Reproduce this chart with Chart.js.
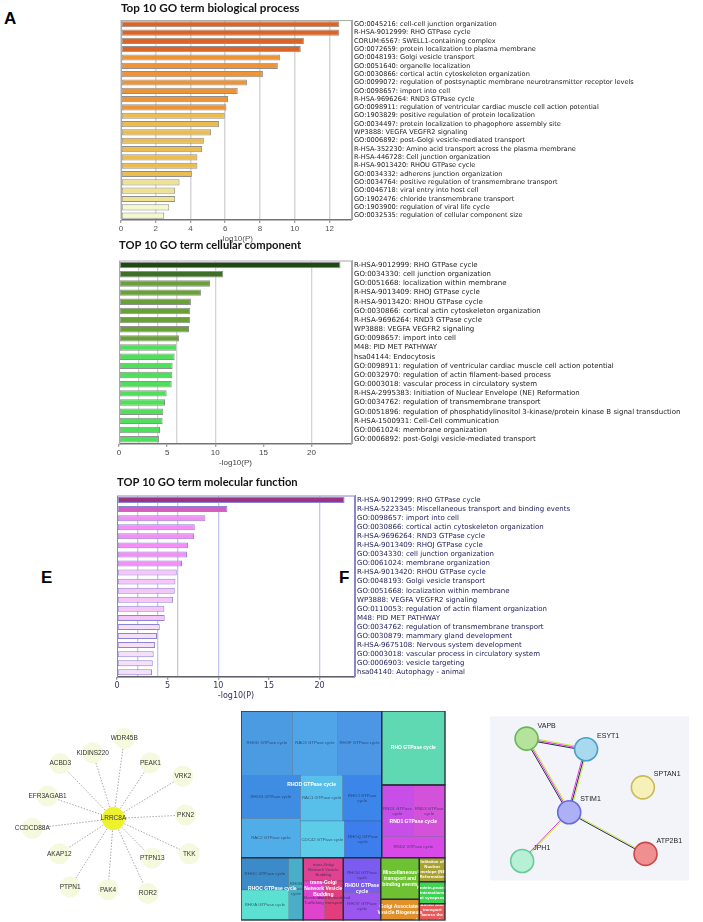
<!DOCTYPE html>
<html>
<head>
<meta charset="utf-8">
<script src="https://cdn.jsdelivr.net/npm/chart.js@4.4.1/dist/chart.umd.min.js"></script>
<style>
    html, body { margin: 0; padding: 0; background: #fff; }
    body { width: 703px; height: 922px; position: relative; overflow: hidden; }
    .panel { position: absolute; }
    .letra { position: absolute; font: bold 17px "Liberation Sans", Arial, sans-serif; line-height: 17px; color: #000; }
</style>
</head>
<body>
<div class="letra" style="left:4px;top:10px">A</div>
<div class="letra" style="left:41px;top:569px">E</div>
<div class="letra" style="left:339px;top:569px">F</div>

<div class="panel" style="left:0;top:0;width:703px;height:245px"><canvas id="grafica_bp"></canvas></div>
<div class="panel" style="left:0;top:237px;width:703px;height:232px"><canvas id="grafica_cc"></canvas></div>
<div class="panel" style="left:0;top:474px;width:703px;height:228px"><canvas id="grafica_mf"></canvas></div>
<div class="panel" style="left:0;top:690px;width:235px;height:232px"><canvas id="grafica_red"></canvas></div>
<div class="panel" style="left:241px;top:711px;width:205px;height:211px"><canvas id="grafica_treemap"></canvas></div>
<div class="panel" style="left:470px;top:690px;width:233px;height:232px"><canvas id="grafica_string"></canvas></div>

<script>
// Datos: términos enriquecidos y -log10(P)
var bpEtiquetas = [
    'GO:0045216: cell-cell junction organization',
    'R-HSA-9012999: RHO GTPase cycle',
    'CORUM:6567: SWELL1-containing complex',
    'GO:0072659: protein localization to plasma membrane',
    'GO:0048193: Golgi vesicle transport',
    'GO:0051640: organelle localization',
    'GO:0030866: cortical actin cytoskeleton organization',
    'GO:0099072: regulation of postsynaptic membrane neurotransmitter receptor levels',
    'GO:0098657: import into cell',
    'R-HSA-9696264: RND3 GTPase cycle',
    'GO:0098911: regulation of ventricular cardiac muscle cell action potential',
    'GO:1903829: positive regulation of protein localization',
    'GO:0034497: protein localization to phagophore assembly site',
    'WP3888: VEGFA VEGFR2 signaling',
    'GO:0006892: post-Golgi vesicle-mediated transport',
    'R-HSA-352230: Amino acid transport across the plasma membrane',
    'R-HSA-446728: Cell junction organization',
    'R-HSA-9013420: RHOU GTPase cycle',
    'GO:0034332: adherens junction organization',
    'GO:0034764: positive regulation of transmembrane transport',
    'GO:0046718: viral entry into host cell',
    'GO:1902476: chloride transmembrane transport',
    'GO:1903900: regulation of viral life cycle',
    'GO:0032535: regulation of cellular component size'
];
var bpValores = [12.57, 12.57, 10.53, 10.35, 9.15, 9.03, 8.17, 7.25, 6.72, 6.16, 6.07, 5.97,
    5.65, 5.19, 4.77, 4.67, 4.4, 4.4, 4.08, 3.37, 3.12, 3.12, 2.78, 2.49];

var ccEtiquetas = [
    'R-HSA-9012999: RHO GTPase cycle',
    'GO:0034330: cell junction organization',
    'GO:0051668: localization within membrane',
    'R-HSA-9013409: RHOJ GTPase cycle',
    'R-HSA-9013420: RHOU GTPase cycle',
    'GO:0030866: cortical actin cytoskeleton organization',
    'R-HSA-9696264: RND3 GTPase cycle',
    'WP3888: VEGFA VEGFR2 signaling',
    'GO:0098657: import into cell',
    'M48: PID MET PATHWAY',
    'hsa04144: Endocytosis',
    'GO:0098911: regulation of ventricular cardiac muscle cell action potential',
    'GO:0032970: regulation of actin filament-based process',
    'GO:0003018: vascular process in circulatory system',
    'R-HSA-2995383: Initiation of Nuclear Envelope (NE) Reformation',
    'GO:0034762: regulation of transmembrane transport',
    'GO:0051896: regulation of phosphatidylinositol 3-kinase/protein kinase B signal transduction',
    'R-HSA-1500931: Cell-Cell communication',
    'GO:0061024: membrane organization',
    'GO:0006892: post-Golgi vesicle-mediated transport'
];
var ccValores = [23.0, 10.83, 9.45, 8.51, 7.47, 7.4, 7.37, 7.27, 6.23, 5.95, 5.78, 5.57,
    5.54, 5.47, 4.95, 4.78, 4.6, 4.53, 4.26, 4.15];

var mfEtiquetas = [
    'R-HSA-9012999: RHO GTPase cycle',
    'R-HSA-5223345: Miscellaneous transport and binding events',
    'GO:0098657: import into cell',
    'GO:0030866: cortical actin cytoskeleton organization',
    'R-HSA-9696264: RND3 GTPase cycle',
    'R-HSA-9013409: RHOJ GTPase cycle',
    'GO:0034330: cell junction organization',
    'GO:0061024: membrane organization',
    'R-HSA-9013420: RHOU GTPase cycle',
    'GO:0048193: Golgi vesicle transport',
    'GO:0051668: localization within membrane',
    'WP3888: VEGFA VEGFR2 signaling',
    'GO:0110053: regulation of actin filament organization',
    'M48: PID MET PATHWAY',
    'GO:0034762: regulation of transmembrane transport',
    'GO:0030879: mammary gland development',
    'R-HSA-9675108: Nervous system development',
    'GO:0003018: vascular process in circulatory system',
    'GO:0006903: vesicle targeting',
    'hsa04140: Autophagy - animal'
];
var mfValores = [22.47, 10.9, 8.73, 7.68, 7.61, 7.02, 6.92, 6.42, 5.9, 5.77, 5.7, 5.54,
    4.68, 4.71, 4.22, 3.95, 3.76, 3.62, 3.53, 3.46];

// Líneas guía verticales (umbrales) de los paneles B y C
var ccLineas = [2, 4, 6, 10, 20];
var mfLineas = [2, 4, 6, 10, 20];

// Red de interacción de LRRC8A (panel E)
var redNodos = ['LRRC8A', 'WDR45B', 'KIDINS220', 'ACBD3', 'PEAK1', 'VRK2', 'EFR3AGAB1', 'PKN2',
    'CCDCD88A', 'TKK', 'AKAP12', 'PTPN13', 'PTPN1', 'PAK4', 'ROR2'];
var redX = [113, 125, 90, 54, 154, 190, 40, 193, 23, 197, 53, 156, 65, 107, 151];
var redY = [130, 41, 57, 69, 68, 83, 105, 126, 141, 169, 169, 174, 206, 209, 213];

// Treemap de términos (panel F): etiqueta y rectángulo [x0, y0, x1, y1]
var tmEtiquetas = ['RHOD GTPase cycle', 'RAC3 GTPase cycle', 'RHOF GTPase cycle', 'RHOG GTPase cycle',
    'RAC1 GTPase cycle', 'RHOJ GTPase\ncycle', 'RAC2 GTPase cycle', 'CDC42 GTPase cycle', 'RHOQ GTPase\ncycle',
    'RHO GTPase cycle', 'RND1 GTPase\ncycle', 'RND3 GTPase\ncycle', 'RND2 GTPase cycle',
    'RHOC GTPase cycle', 'RHOB\nGTPase\ncycle', 'RHOA GTPase cycle',
    'trans-Golgi\nNetwork Vesicle\nBudding', 'Membrane\nTrafficking', 'Vesicle-mediated\ntransport',
    'RHOU GTPase\ncycle', 'RHOV GTPase\ncycle',
    'Miscellaneous\ntransport and\nbinding events', 'Golgi Associated\nVesicle Biogenesis',
    'Initiation of\nNuclear\nEnvelope (NE)\nReformation', 'Protein-protein\ninteractions\nat synapses',
    'Amino acid\ntransport\nacross the\nplasma membrane'];
var tmCeldas = [
    [0, 0, 155, 193], [155, 0, 289, 193], [289, 0, 422, 193], [0, 193, 179, 323],
    [179, 193, 305, 330], [305, 193, 422, 330], [0, 323, 179, 440], [179, 330, 310, 440], [310, 330, 422, 440],
    [422, 0, 612, 222], [422, 222, 517, 377], [517, 222, 612, 377], [422, 377, 612, 440],
    [0, 440, 143, 537], [143, 440, 187, 627], [0, 537, 143, 627],
    [187, 440, 307, 510], [187, 510, 250, 627], [250, 510, 307, 627],
    [307, 440, 419, 545], [307, 545, 419, 627],
    [419, 440, 535, 565], [419, 565, 535, 627],
    [535, 440, 612, 512], [535, 512, 612, 578], [535, 578, 612, 627]];
var tmGrupos = [[0, 0, 422, 440], [422, 0, 612, 222], [422, 222, 612, 440], [0, 440, 187, 627],
    [187, 440, 307, 627], [307, 440, 419, 627], [419, 440, 535, 565], [419, 565, 535, 627],
    [535, 440, 612, 512], [535, 512, 612, 578], [535, 578, 612, 627]];
var tmTitulosGrupo = ['RHOD GTPase cycle', 'RND1 GTPase cycle', 'RHOC GTPase cycle',
    'trans-Golgi\nNetwork Vesicle\nBudding', 'RHOU GTPase\ncycle'];
var tmTitulosX = [212, 517, 94, 247, 363];
var tmTitulosY = [222, 332, 533, 533, 533];

// Red STRING (panel derecho)
var stNodos = ['VAPB', 'ESYT1', 'SPTAN1', 'STIM1', 'ATP2B1', 'JPH1'];
var stX = [49, 116, 180, 97, 183, 44];
var stY = [40, 52, 95, 123, 170, 178];
var stAristas = [[0, 1], [0, 3], [1, 3], [3, 5], [3, 4]];

// Estilos
var bpColores = [];
for (var i = 0; i < bpValores.length; i++) {
    bpColores.push(i < 4 ? '#db6526' : i < 11 ? '#ee9437' : i < 19 ? '#ebbd50' : i < 22 ? '#efe290' : '#f5f8cd');
}
var ccColores = [];
for (var i = 0; i < ccValores.length; i++) {
    ccColores.push(i === 0 ? '#1d4b0f' : i === 1 ? '#3e6f27' : i < 9 ? '#68a136' : '#4fe05b');
}
var mfColores = [];
for (var i = 0; i < mfValores.length; i++) {
    mfColores.push(i === 0 ? '#9b3580' : i === 1 ? '#d75cc0' : i < 8 ? '#f58ff5' : i < 14 ? '#f7c6f7' : '#f5e0f7');
}
var tmColores = ['#4a9be2', '#50a4e8', '#4b97e6', '#3f8de2', '#58bfea', '#3b86e8', '#50ade8', '#5ccce8', '#3d7eec',
    '#5fd9b2', '#c84ee8', '#d352d9', '#d84ae8', '#3b8bc9', '#4aaec9', '#5ce0d2',
    '#e1418e', '#e043cc', '#e23e7e', '#7b5bf0', '#9b56f0', '#6dc132', '#e0912b', '#a9a232', '#42d253', '#e85b5b'];
var tmBlanco = [9, 21, 22, 23, 24, 25];
var stRelleno = ['#b5e39c', '#a9d9ef', '#f6f1b8', '#aeb0f5', '#f08f8f', '#b8f0d6'];
var stBorde = ['#68b556', '#4c9fc6', '#c9b957', '#6a6adb', '#c94848', '#68c99a'];
var stColoresArista = {
    '0-1': ['#c6ec3c', '#e03fdc', '#2b2b4b'],
    '0-3': ['#c6ec3c', '#e03fdc', '#2b2b4b'],
    '1-3': ['#c6ec3c', '#2b2b4b', '#e03fdc'],
    '3-5': ['#c6ec3c', '#e03fdc'],
    '3-4': ['#c6ec3c', '#2b2b4b']
};

Chart.defaults.animation = false;
Chart.defaults.responsive = true;
Chart.defaults.maintainAspectRatio = false;
Chart.defaults.plugins.legend.display = false;
Chart.defaults.plugins.tooltip.enabled = false;

// Dibuja el marco alrededor del área de la gráfica
var marcoPlugin = {
    id: 'marco',
    afterDatasetsDraw: function (chart, args, opts) {
        var a = chart.chartArea;
        var ctx = chart.ctx;
        ctx.save();
        ctx.strokeStyle = opts.color;
        ctx.lineWidth = 1;
        ctx.strokeRect(a.left + 0.5, a.top + 0.5, a.right - a.left - 1, a.bottom - a.top);
        ctx.restore();
    }
};

// Crea una gráfica de barras horizontales con las etiquetas a la derecha
function crearGraficaBarras(id, cfg) {
    var escalas = {
        x: {
            type: 'linear', min: 0, max: cfg.max,
            ticks: { stepSize: cfg.paso, includeBounds: false, padding: 1, color: cfg.colorTexto,
                font: { family: cfg.fuenteEje, size: 8 } },
            grid: { display: true, drawOnChartArea: !cfg.lineas, color: '#d6d6d6', lineWidth: 1.5,
                tickLength: 3, tickColor: '#777', tickWidth: 1 },
            border: { display: true, color: cfg.colorEje, width: 1 },
            title: { display: true, text: '-log10(P)', color: cfg.colorTexto, padding: { top: 0, bottom: 1 },
                font: { family: cfg.fuenteEje, size: 8 } }
        },
        y: {
            type: 'category', position: 'right',
            ticks: { autoSkip: false, padding: 2, color: cfg.colorEtiqueta,
                font: { family: '"DejaVu Sans", sans-serif', size: cfg.tamEtiqueta } },
            grid: { display: false, drawTicks: false, tickLength: 0 },
            border: { display: true, color: cfg.colorMarco },
            afterFit: function (s) { s.width = cfg.anchoEtiquetas; }
        }
    };
    if (cfg.lineas) {
        escalas.xg = {
            type: 'linear', position: 'top', min: 0, max: cfg.max, z: cfg.lineasEncima ? 1 : 0,
            ticks: { display: false },
            grid: { color: cfg.colorLineas, lineWidth: 1.3, drawTicks: false },
            border: { display: false },
            afterBuildTicks: function (s) {
                s.ticks = cfg.lineas.map(function (v) { return { value: v }; });
            }
        };
    }
    return new Chart(document.getElementById(id).getContext('2d'), {
        type: 'bar',
        data: {
            labels: cfg.etiquetas,
            datasets: [{
                data: cfg.valores, xAxisID: 'x', yAxisID: 'y',
                backgroundColor: cfg.colores, borderColor: cfg.colorBorde, borderWidth: 1,
                borderSkipped: false, barPercentage: cfg.grosor, categoryPercentage: 1
            }]
        },
        options: {
            indexAxis: 'y',
            layout: { padding: { left: cfg.izquierda, right: 0, top: 0, bottom: 0 } },
            plugins: {
                title: {
                    display: true, text: cfg.titulo, align: 'start', color: '#151515',
                    font: { family: 'Lato, sans-serif', size: cfg.tamTitulo, weight: 'bold', lineHeight: 1.1 },
                    padding: { top: 2, bottom: cfg.espacioTitulo }
                },
                marco: { color: cfg.colorMarco }
            },
            scales: escalas
        },
        plugins: [marcoPlugin]
    });
}

crearGraficaBarras('grafica_bp', {
    etiquetas: bpEtiquetas, valores: bpValores, colores: bpColores, colorBorde: '#8f8f8f',
    titulo: 'Top 10 GO term biological process', espacioTitulo: 5.2, tamTitulo: 11.7,
    max: 13.3, paso: 2, izquierda: 121, anchoEtiquetas: 351, grosor: 0.74, tamEtiqueta: 6.6,
    colorTexto: '#555', colorEtiqueta: '#222', colorEje: '#666', colorMarco: '#a9a9a9',
    fuenteEje: '"Liberation Sans", sans-serif'
});

crearGraficaBarras('grafica_cc', {
    etiquetas: ccEtiquetas, valores: ccValores, colores: ccColores, colorBorde: '#8f8f8f',
    titulo: 'TOP 10 GO term cellular component', espacioTitulo: 9.2, tamTitulo: 11.2,
    max: 24.2, paso: 5, izquierda: 119, anchoEtiquetas: 351, grosor: 0.7, tamEtiqueta: 7,
    lineas: ccLineas, colorLineas: '#d3d3d3',
    colorTexto: '#444', colorEtiqueta: '#222', colorEje: '#666', colorMarco: '#a9a9a9',
    fuenteEje: '"Liberation Sans", sans-serif'
});

crearGraficaBarras('grafica_mf', {
    etiquetas: mfEtiquetas, valores: mfValores, colores: mfColores, colorBorde: '#8c84d4',
    titulo: 'TOP 10 GO term molecular function', espacioTitulo: 7.2, tamTitulo: 11.2,
    max: 23.5, paso: 5, izquierda: 117, anchoEtiquetas: 348, grosor: 0.66, tamEtiqueta: 7,
    lineas: mfLineas, colorLineas: 'rgba(150,150,235,0.55)', lineasEncima: true,
    colorTexto: '#33335a', colorEtiqueta: '#1c1c58', colorEje: '#555', colorMarco: '#8a86c8',
    fuenteEje: '"DejaVu Sans", sans-serif'
});

// Escala sin ejes visibles para las figuras de red y treemap
function escalasOcultas(ancho, alto) {
    return {
        x: { type: 'linear', min: 0, max: ancho, display: false },
        y: { type: 'linear', min: 0, max: alto, reverse: true, display: false }
    };
}

// Etiquetas de los nodos
var etiquetasNodos = {
    id: 'etiquetasNodos',
    afterDatasetsDraw: function (chart, args, opts) {
        var ctx = chart.ctx;
        var meta = chart.getDatasetMeta(0);
        ctx.save();
        ctx.font = opts.fuente;
        ctx.fillStyle = opts.color;
        ctx.textAlign = opts.alinear;
        ctx.textBaseline = 'middle';
        meta.data.forEach(function (p, i) {
            ctx.fillText(opts.textos[i], p.x + opts.dx, p.y + opts.dy);
        });
        ctx.restore();
    }
};

// Panel E: red radial
function crearRed() {
    var datasets = [];
    var puntos = redNodos.map(function (n, i) { return { x: redX[i], y: redY[i] }; });
    datasets.push({
        data: puntos, order: 0,
        pointRadius: puntos.map(function (p, i) { return i === 0 ? 11.5 : 10.5; }),
        pointBackgroundColor: puntos.map(function (p, i) { return i === 0 ? '#eef22c' : '#f5f9dd'; }),
        pointBorderWidth: 0
    });
    for (var i = 1; i < puntos.length; i++) {
        datasets.push({
            data: [puntos[0], puntos[i]], order: 1, showLine: true, pointRadius: 0,
            borderColor: '#a8a8a8', borderWidth: 1, borderDash: [1.5, 1.5]
        });
    }
    new Chart(document.getElementById('grafica_red').getContext('2d'), {
        type: 'scatter',
        data: { datasets: datasets },
        options: {
            layout: { padding: 0 },
            scales: escalasOcultas(235, 232),
            plugins: {
                etiquetasNodos: { textos: redNodos, fuente: '6.5px "Liberation Sans", Arial, sans-serif',
                    color: '#333', alinear: 'center', dx: 0, dy: 0 }
            }
        },
        plugins: [etiquetasNodos]
    });
}

// Panel F: treemap dibujado sobre las escalas de la gráfica
var treemapPlugin = {
    id: 'treemap',
    beforeDatasetsDraw: function (chart) {
        var ctx = chart.ctx;
        var sx = chart.scales.x, sy = chart.scales.y;
        function rect(r) {
            var x0 = sx.getPixelForValue(r[0]), y0 = sy.getPixelForValue(r[1]);
            var x1 = sx.getPixelForValue(r[2]), y1 = sy.getPixelForValue(r[3]);
            return [x0, y0, x1 - x0, y1 - y0];
        }
        function texto(t, x, y, alto) {
            var lineas = t.split('\n');
            var y0 = y - (lineas.length - 1) * alto / 2;
            lineas.forEach(function (l, k) { ctx.fillText(l, x, y0 + k * alto); });
        }
        ctx.save();
        tmCeldas.forEach(function (c, i) {
            var r = rect(c);
            ctx.fillStyle = tmColores[i];
            ctx.fillRect(r[0], r[1], r[2], r[3]);
            ctx.strokeStyle = 'rgba(40,60,90,0.35)';
            ctx.lineWidth = 0.6;
            ctx.strokeRect(r[0], r[1], r[2], r[3]);
        });
        ctx.textAlign = 'center';
        ctx.textBaseline = 'middle';
        tmCeldas.forEach(function (c, i) {
            var r = rect(c);
            var blanco = tmBlanco.indexOf(i) >= 0;
            var grande = i === 9 || i === 21 || i === 22;
            ctx.fillStyle = blanco ? '#fff' : 'rgba(35,45,80,0.75)';
            ctx.font = (blanco ? 'bold ' : '') + (grande ? '5px' : '4.3px') + ' "Liberation Sans", Arial, sans-serif';
            texto(tmEtiquetas[i], r[0] + r[2] / 2, r[1] + r[3] / 2, grande ? 6 : 5);
        });
        ctx.strokeStyle = '#2b2f36';
        ctx.lineWidth = 1.3;
        tmGrupos.forEach(function (g) {
            var r = rect(g);
            ctx.strokeRect(r[0], r[1], r[2], r[3]);
        });
        ctx.fillStyle = '#fff';
        ctx.font = 'bold 5px "Liberation Sans", Arial, sans-serif';
        tmTitulosGrupo.forEach(function (t, i) {
            texto(t, sx.getPixelForValue(tmTitulosX[i]), sy.getPixelForValue(tmTitulosY[i]), 6);
        });
        ctx.restore();
    }
};

function crearTreemap() {
    var centros = tmCeldas.map(function (c) { return { x: (c[0] + c[2]) / 2, y: (c[1] + c[3]) / 2 }; });
    new Chart(document.getElementById('grafica_treemap').getContext('2d'), {
        type: 'scatter',
        data: { datasets: [{ data: centros, pointRadius: 0 }] },
        options: { layout: { padding: 0 }, scales: escalasOcultas(615, 633) },
        plugins: [treemapPlugin]
    });
}

// Panel STRING: fondo y aristas de varios colores en paralelo
var stringPlugin = {
    id: 'stringRed',
    beforeDatasetsDraw: function (chart) {
        var ctx = chart.ctx;
        var sx = chart.scales.x, sy = chart.scales.y;
        ctx.save();
        ctx.fillStyle = '#f3f4fa';
        var x0 = sx.getPixelForValue(8), y0 = sy.getPixelForValue(15);
        ctx.fillRect(x0, y0, sx.getPixelForValue(232) - x0, sy.getPixelForValue(200) - y0);
        stAristas.forEach(function (a) {
            var ax = sx.getPixelForValue(stX[a[0]]), ay = sy.getPixelForValue(stY[a[0]]);
            var bx = sx.getPixelForValue(stX[a[1]]), by = sy.getPixelForValue(stY[a[1]]);
            var largo = Math.hypot(bx - ax, by - ay);
            var nx = -(by - ay) / largo, ny = (bx - ax) / largo;
            var colores = stColoresArista[a[0] + '-' + a[1]];
            colores.forEach(function (c, k) {
                var d = (k - (colores.length - 1) / 2) * 1.3;
                ctx.strokeStyle = c;
                ctx.lineWidth = 1;
                ctx.beginPath();
                ctx.moveTo(ax + nx * d, ay + ny * d);
                ctx.lineTo(bx + nx * d, by + ny * d);
                ctx.stroke();
            });
        });
        ctx.restore();
    }
};

function crearString() {
    var puntos = stNodos.map(function (n, i) { return { x: stX[i], y: stY[i] }; });
    new Chart(document.getElementById('grafica_string').getContext('2d'), {
        type: 'scatter',
        data: {
            datasets: [{
                data: puntos, pointRadius: 11.5, pointBackgroundColor: stRelleno,
                pointBorderColor: stBorde, pointBorderWidth: 1.6
            }]
        },
        options: {
            layout: { padding: 0 },
            scales: escalasOcultas(233, 232),
            plugins: {
                etiquetasNodos: { textos: stNodos, fuente: '7px "Liberation Sans", Arial, sans-serif',
                    color: '#222', alinear: 'left', dx: 11, dy: -13 }
            }
        },
        plugins: [stringPlugin, etiquetasNodos]
    });
}

crearRed();
crearTreemap();
crearString();
</script>
</body>
</html>
